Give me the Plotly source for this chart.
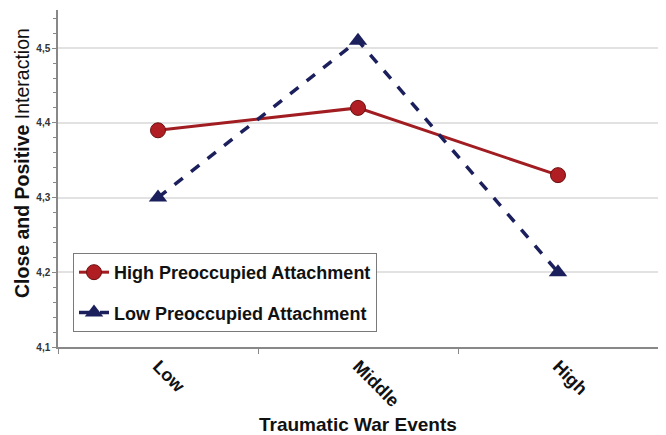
import plotly.graph_objects as go

categories = ["Low", "Middle", "High"]
high_preoccupied = [4.39, 4.42, 4.33]
low_preoccupied = [4.30, 4.51, 4.20]
series_names = ["High Preoccupied Attachment", "Low Preoccupied Attachment"]
y_tickvals = [4.1, 4.2, 4.3, 4.4, 4.5]
y_ticktext = ["4,1", "4,2", "4,3", "4,4", "4,5"]
x_title = "Traumatic War Events"
y_title_bold = "Close and Positive"
y_title_rest = "Interaction"

FONT = "Liberation Sans, Arial, sans-serif"
RED = "#a11d21"
NAVY = "#1b1f5c"

fig = go.Figure()
fig.add_trace(go.Scatter(
    x=categories, y=high_preoccupied, name="<b>" + series_names[0] + "</b>",
    mode="lines+markers", legendgroup="a",
    line=dict(color=RED, width=3),
    marker=dict(symbol="circle", size=15, color="#b01e23", line=dict(color="#6a1010", width=1)),
))
fig.add_trace(go.Scatter(
    x=categories, y=low_preoccupied, name="<b>" + series_names[1] + "</b>",
    mode="lines+markers", legendgroup="b",
    line=dict(color=NAVY, width=3.5, dash="dash"),
    marker=dict(symbol="triangle-up", size=16, color=NAVY, line=dict(color=NAVY, width=0)),
))

fig.update_layout(
    width=658, height=427,
    margin=dict(l=50, r=8, t=2, b=88),
    plot_bgcolor="white", paper_bgcolor="white",
    font=dict(family=FONT, color="#111"),
    showlegend=True,
    legend=dict(
        x=0.025, y=0.279, xanchor="left", yanchor="top",
        bgcolor="white", bordercolor="#7a7a7a", borderwidth=1,
        font=dict(size=18, color="#111", family=FONT),
        traceorder="grouped", tracegroupgap=14,
    ),
    xaxis=dict(
        type="category", range=[-0.5, 2.5],
        showline=True, linecolor="#888", linewidth=1.5,
        ticks="outside", tickson="boundaries", ticklen=5, tickcolor="#888",
        tickangle=45, tickfont=dict(size=18, color="#111", family=FONT),
        showgrid=False, zeroline=False,
    ),
    yaxis=dict(
        range=[4.1, 4.551],
        tickvals=y_tickvals, ticktext=["<b>" + t + "</b>" for t in y_ticktext],
        showline=True, linecolor="#888", linewidth=1.5,
        ticks="outside", ticklen=4, tickcolor="#888",
        tickfont=dict(size=10, color="#333", family=FONT),
        showgrid=True, gridcolor="#e2e2e2", gridwidth=1.5,
        zeroline=False,
        minor=dict(dtick=0.02, tick0=4.1, ticks="outside", ticklen=3, tickcolor="#888", showgrid=False),
    ),
    annotations=[
        dict(text="<b>" + x_title + "</b>", xref="paper", yref="paper",
             x=0.5, y=-0.231, xanchor="center", yanchor="middle",
             showarrow=False, font=dict(size=19, color="#111", family=FONT)),
        dict(text="<b>" + y_title_bold + "</b> " + y_title_rest, xref="paper", yref="paper",
             x=-0.06, y=0.546, xanchor="center", yanchor="middle", textangle=-90,
             showarrow=False, font=dict(size=19.5, color="#111", family=FONT)),
    ],
)

fig.update_xaxes(tickprefix="<b>", ticksuffix="</b>")

fig.write_html("out.html")
